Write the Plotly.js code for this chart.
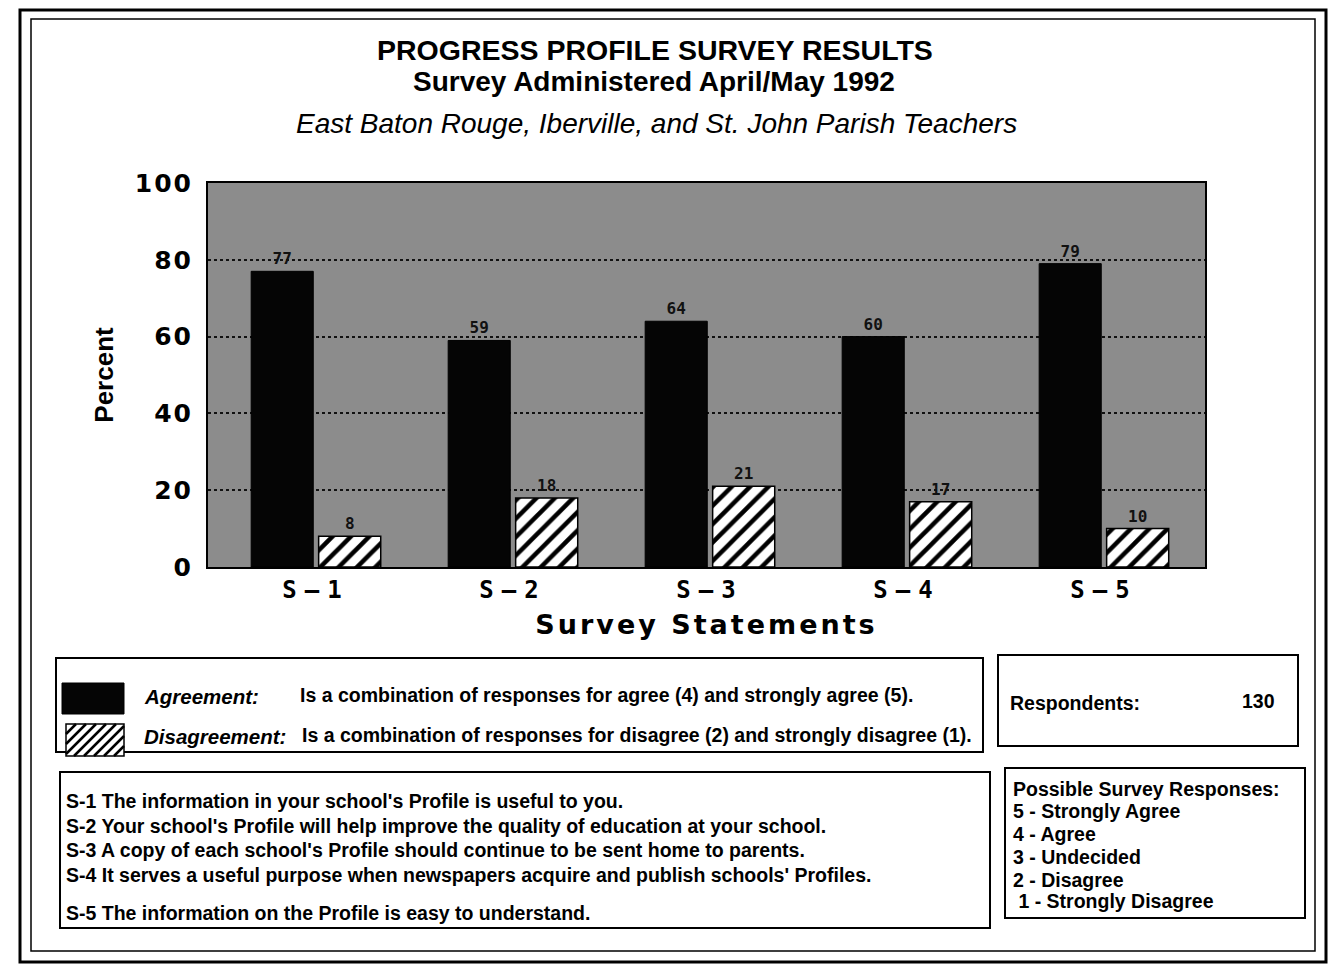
<!DOCTYPE html>
<html>
<head>
<meta charset="utf-8">
<script src="https://cdn.plot.ly/plotly-3.0.1.min.js"></script>
<style>
html,body{margin:0;padding:0;background:#fff;}
#chart{width:1336px;height:968px;}
.g-xtitle text{letter-spacing:3px;}
.xtick text{letter-spacing:8px;}
.ytick text{letter-spacing:2px;}
</style>
</head>
<body>
<div id="chart"></div>
<script>
const categories = ["S-1", "S-2", "S-3", "S-4", "S-5"];
const xTickLabels = ["S—1", "S—2", "S—3", "S—4", "S—5"];
const agreement = [77, 59, 64, 60, 79];
const disagreement = [8, 18, 21, 17, 10];
const yTicks = [0, 20, 40, 60, 80, 100];
const statements = [
  "S-1 The information in your school's Profile is useful to you.",
  "S-2 Your school's Profile will help improve the quality of education at your school.",
  "S-3 A copy of each school's Profile should continue to be sent home to parents.",
  "S-4 It serves a useful purpose when newspapers acquire and publish schools' Profiles.",
  "S-5 The information on the Profile is easy to understand."
];
const responses = [
  "Possible Survey Responses:",
  "5 - Strongly Agree",
  "4 - Agree",
  "3 - Undecided",
  "2 - Disagree",
  " 1 - Strongly Disagree"
];
const respondents = 130;

// plot area in pixels
const L = 208, R = 1205, T = 183, B = 567;
const W = R - L, H = B - T;
const X = px => (px - L) / W;
const Y = py => (B - py) / H;

const FONT = "Liberation Sans, Arial, sans-serif";
const WIDE = "DejaVu Sans, Verdana, sans-serif";
const TXT = 19.5;

const traces = [
  {
    type: "bar", name: "Agreement", x: categories, y: agreement,
    marker: {color: "#050505", line: {color: "#000", width: 1}},
    text: agreement.map(String), textposition: "outside", cliponaxis: false,
    textfont: {family: "DejaVu Sans Mono, monospace", size: 16, color: "#111", weight: "bold"}
  },
  {
    type: "bar", name: "Disagreement", x: categories, y: disagreement,
    marker: {color: "#fff", line: {color: "#000", width: 1.5},
      pattern: {shape: "/", fgcolor: "#000", bgcolor: "#fff", size: 13, solidity: 0.35}},
    text: disagreement.map(String), textposition: "outside", cliponaxis: false,
    textfont: {family: "DejaVu Sans Mono, monospace", size: 16, color: "#111", weight: "bold"}
  }
];

const shapes = [];
const annotations = [];
function rect(x0, y0, x1, y1, w, fill) {
  shapes.push({type: "rect", xref: "paper", yref: "paper", x0: X(x0), x1: X(x1), y0: Y(y0), y1: Y(y1),
    line: {color: "#000", width: w}, fillcolor: fill || "rgba(0,0,0,0)", layer: "above"});
}
function text(t, px, py, size, opts) {
  opts = opts || {};
  annotations.push({
    text: t, xref: "paper", yref: "paper", x: X(px), y: Y(py),
    xanchor: opts.anchor || "left", yanchor: "middle", showarrow: false,
    font: {family: opts.family || FONT, size: size, color: "#000",
      weight: opts.weight || "bold", style: opts.style || "normal"}
  });
}

// outer frame
rect(20, 10, 1326, 962, 3);
rect(31, 19, 1315, 951, 1.5);

// titles
text("PROGRESS PROFILE SURVEY RESULTS", 655, 50, 28.5, {anchor: "center"});
text("Survey Administered April/May 1992", 654, 81, 28, {anchor: "center"});
text("East Baton Rouge, Iberville, and St. John Parish Teachers", 656, 123, 28, {anchor: "center", style: "italic", weight: "normal"});

// legend box
rect(56, 658, 983, 752, 2);
rect(62, 683, 124, 714, 1, "#050505");
rect(66, 724, 124, 756, 1.5, "#fff");
// hatch lines for the disagreement swatch
(function () {
  const x0 = 66, x1 = 124, y0 = 724, y1 = 756, step = 10;
  let path = "";
  for (let s = x0 - (y1 - y0); s < x1; s += step) {
    let ax = s, ay = y1, bx = s + (y1 - y0), by = y0;
    if (ax < x0) { ay = y1 - (x0 - ax); ax = x0; }
    if (bx > x1) { by = y0 + (bx - x1); bx = x1; }
    if (ay <= by) continue;
    path += `M${X(ax)},${Y(ay)} L${X(bx)},${Y(by)} `;
  }
  shapes.push({type: "path", xref: "paper", yref: "paper", path: path, line: {color: "#000", width: 2.5}, layer: "above"});
})();
text("Agreement:", 142, 696, 20.5, {style: "italic"});
text("Is a combination of responses for agree (4) and strongly agree (5).", 298, 695, TXT);
text("Disagreement:", 142, 736, 20.5, {style: "italic"});
text("Is a combination of responses for disagree (2) and strongly disagree (1).", 300, 735, TXT);

// respondents box
rect(998, 655, 1298, 746, 2);
text("Respondents:", 1008, 703, TXT);
text(String(respondents), 1277, 701, TXT, {anchor: "right"});

// statements box
rect(60, 772, 990, 928, 2);
const stY = [801, 826, 850, 875, 913];
statements.forEach((s, i) => text(s, 64, stY[i], TXT));

// responses box
rect(1005, 768, 1305, 918, 2);
const rY = [789, 811, 834, 857, 880, 901];
responses.forEach((s, i) => text(s, 1011, rY[i], TXT));

const layout = {
  width: 1336, height: 968,
  margin: {l: L, r: 1336 - R, t: T, b: 968 - B, pad: 0},
  paper_bgcolor: "#fff",
  plot_bgcolor: "#8c8c8c",
  barmode: "group", bargap: 0.315, bargroupgap: 0.08,
  showlegend: false,
  xaxis: {
    type: "category", range: [-0.548, 4.513],
    tickvals: categories, ticktext: xTickLabels,
    showgrid: false, zeroline: false,
    showline: true, linecolor: "#000", linewidth: 2, mirror: true,
    ticks: "", tickfont: {family: "DejaVu Sans Mono, monospace", size: 24, color: "#000", weight: "bold"},
    title: {text: "Survey Statements", standoff: 12,
      font: {family: WIDE, size: 27, color: "#000", weight: "bold"}}
  },
  yaxis: {
    range: [0, 100], tickvals: yTicks, ticktext: yTicks.map(String),
    showgrid: true, gridcolor: "#111", gridwidth: 2, griddash: "dot",
    zeroline: false, showline: true, linecolor: "#000", linewidth: 2, mirror: true,
    ticks: "", ticklabelstandoff: 8,
    tickfont: {family: WIDE, size: 25, color: "#000", weight: "bold"},
    title: {text: "Percent", standoff: 14,
      font: {family: FONT, size: 26, color: "#000", weight: "bold"}}
  },
  shapes: shapes,
  annotations: annotations
};

Plotly.newPlot("chart", traces, layout, {displayModeBar: false, staticPlot: true});
</script>
</body>
</html>
